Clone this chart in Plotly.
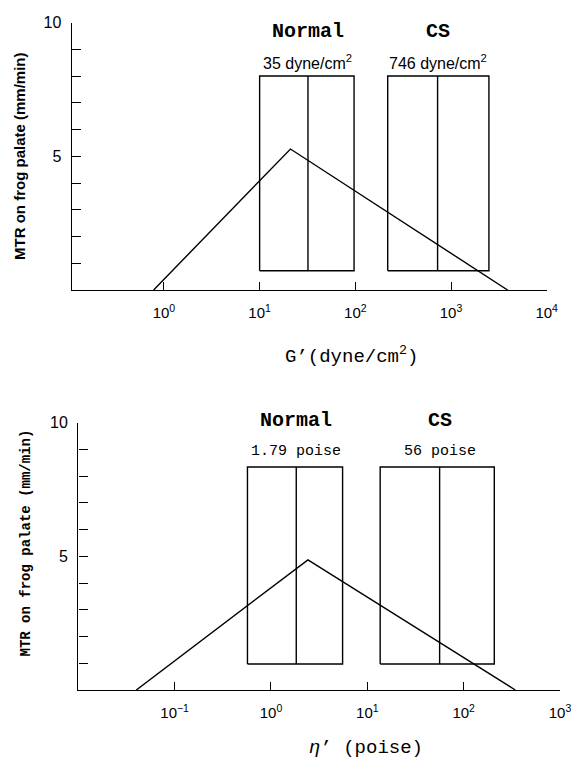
import numpy as np
import plotly.graph_objects as go

W, H = 571, 762

# ---------------- data ----------------
# Top panel: G' (dyne/cm^2)
g_line_x = [0.78, 21.0, 3900.0]
g_line_y = [0.0, 5.27, 0.0]
g_normal_box = [10.0, 32.0, 97.0]      # left, median, right
g_cs_box = [218.0, 724.0, 2490.0]
g_box_y = [0.72, 8.0]                  # bottom, top
g_normal_label = "35 dyne/cm<sup>2</sup>"
g_cs_label = "746 dyne/cm<sup>2</sup>"

# Bottom panel: eta' (poise)
e_line_x = [0.04, 2.42, 344.0]
e_line_y = [0.0, 4.87, 0.0]
e_normal_box = [0.57, 1.83, 5.54]
e_cs_box = [13.6, 56.3, 208.0]
e_box_y = [0.97, 8.34]
e_normal_label = "1.79 poise"
e_cs_label = "56 poise"

group_names = ["Normal", "CS"]
y_tickvals = list(range(1, 11))
y_ticktext = ["" if v not in (5, 10) else str(v) for v in y_tickvals]
g_xticks = [0, 1, 2, 3, 4]
e_xticks = [-1, 0, 1, 2, 3]

# ---------------- figure ----------------
fig = go.Figure()
LINE = dict(color="black", width=1.4)


def box_xy(b, yb):
    l, m, r = b
    bot, top = yb
    xs = [l, r, r, l, l, None, m, m]
    ys = [bot, bot, top, top, bot, None, bot, top]
    return xs, ys


for (lx, ly, boxes, yb, xa, ya) in [
    (g_line_x, g_line_y, [g_normal_box, g_cs_box], g_box_y, "x", "y"),
    (e_line_x, e_line_y, [e_normal_box, e_cs_box], e_box_y, "x2", "y2"),
]:
    for b in boxes:
        xs, ys = box_xy(b, yb)
        fig.add_trace(go.Scatter(x=xs, y=ys, mode="lines", line=LINE,
                                 xaxis=xa, yaxis=ya, showlegend=False,
                                 cliponaxis=False, hoverinfo="skip"))
    fig.add_trace(go.Scatter(x=lx, y=ly, mode="lines", line=LINE,
                             xaxis=xa, yaxis=ya, showlegend=False,
                             cliponaxis=False, hoverinfo="skip"))


def px_x(p):
    return p / W


def px_y(p):
    return 1 - p / H


tickfont = dict(family="Liberation Sans", size=15, color="black")
common_x = dict(type="log", showgrid=False, zeroline=False, showline=True,
                linecolor="black", linewidth=1.4, ticks="inside", ticklen=8,
                tickwidth=1.2, tickcolor="black", tickfont=tickfont,
                ticklabelstandoff=9, automargin=False, ticklabeloverflow="allow")
common_y = dict(showgrid=False, zeroline=False, showline=True,
                linecolor="black", linewidth=1.4, ticks="inside", ticklen=9,
                tickwidth=1.2, tickcolor="black", tickvals=y_tickvals,
                ticktext=y_ticktext, range=[0, 10],
                tickfont=dict(family="Liberation Sans", size=16, color="black"),
                ticklabelstandoff=6, automargin=False, ticklabeloverflow="allow")

fig.update_layout(
    width=W, height=H, margin=dict(l=0, r=0, t=0, b=0, autoexpand=False),
    paper_bgcolor="white", plot_bgcolor="white",
    xaxis=dict(common_x, domain=[px_x(71.7), px_x(546.7)], range=[-0.964, 4],
               tickvals=[10 ** v for v in g_xticks],
               ticktext=[f"10<sup>{v}</sup>" for v in g_xticks], anchor="y"),
    yaxis=dict(common_y, domain=[px_y(290), px_y(22.5)], anchor="x"),
    xaxis2=dict(common_x, domain=[px_x(78.3), px_x(560)], range=[-2, 3.0001],
                tickvals=[10 ** v for v in e_xticks],
                ticktext=[f"10<sup>{'−1' if v < 0 else v}</sup>" for v in e_xticks],
                anchor="y2"),
    yaxis2=dict(common_y, domain=[px_y(690), px_y(422.7)], anchor="x2"),
)

annos = []
mono = "Liberation Mono"
# group labels (x in data coords at box median, y in paper coords)
for (boxes, labels, xa, yname, ysub, subfont) in [
    ([g_normal_box, g_cs_box], [g_normal_label, g_cs_label], "x", 31.7, 61.7,
     dict(family="Liberation Sans", size=16, color="black")),
    ([e_normal_box, e_cs_box], [e_normal_label, e_cs_label], "x2", 420, 451.7,
     dict(family=mono, size=15, color="black")),
]:
    for name, b, lab in zip(group_names, boxes, labels):
        xm = float(np.log10(b[1]))
        annos.append(dict(x=xm, y=px_y(yname), xref=xa, yref="paper", text=f"<b>{name}</b>",
                          showarrow=False, font=dict(family=mono, size=20, color="black"),
                          xanchor="center", yanchor="middle"))
        annos.append(dict(x=xm, y=px_y(ysub), xref=xa, yref="paper", text=lab,
                          showarrow=False, font=subfont,
                          xanchor="center", yanchor="middle"))

# axis titles
annos.append(dict(x=px_x(351), y=px_y(355), xref="paper", yref="paper",
                  text="G’(dyne/cm<sup>2</sup>)", showarrow=False,
                  xanchor="center", yanchor="middle",
                  font=dict(family=mono, size=19, color="black")))
annos.append(dict(x=px_x(366), y=px_y(748), xref="paper", yref="paper",
                  text="<i>η</i>’ (poise)", showarrow=False,
                  xanchor="center", yanchor="middle",
                  font=dict(family=mono, size=19, color="black")))
annos.append(dict(x=px_x(20), y=px_y(156), xref="paper", yref="paper",
                  text="<b>MTR on frog palate (mm/min)</b>", showarrow=False, textangle=-90,
                  xanchor="center", yanchor="middle",
                  font=dict(family="Liberation Sans", size=15, color="black")))
annos.append(dict(x=px_x(25), y=px_y(543.5), xref="paper", yref="paper",
                  text="<b>MTR on frog palate (mm/min)</b>", showarrow=False, textangle=-90,
                  xanchor="center", yanchor="middle",
                  font=dict(family=mono, size=14, color="black")))

fig.update_layout(annotations=annos)
fig.write_html("out.html", config={"displayModeBar": False},
               post_script="document.body.style.margin='0';document.body.style.overflow='hidden';")
